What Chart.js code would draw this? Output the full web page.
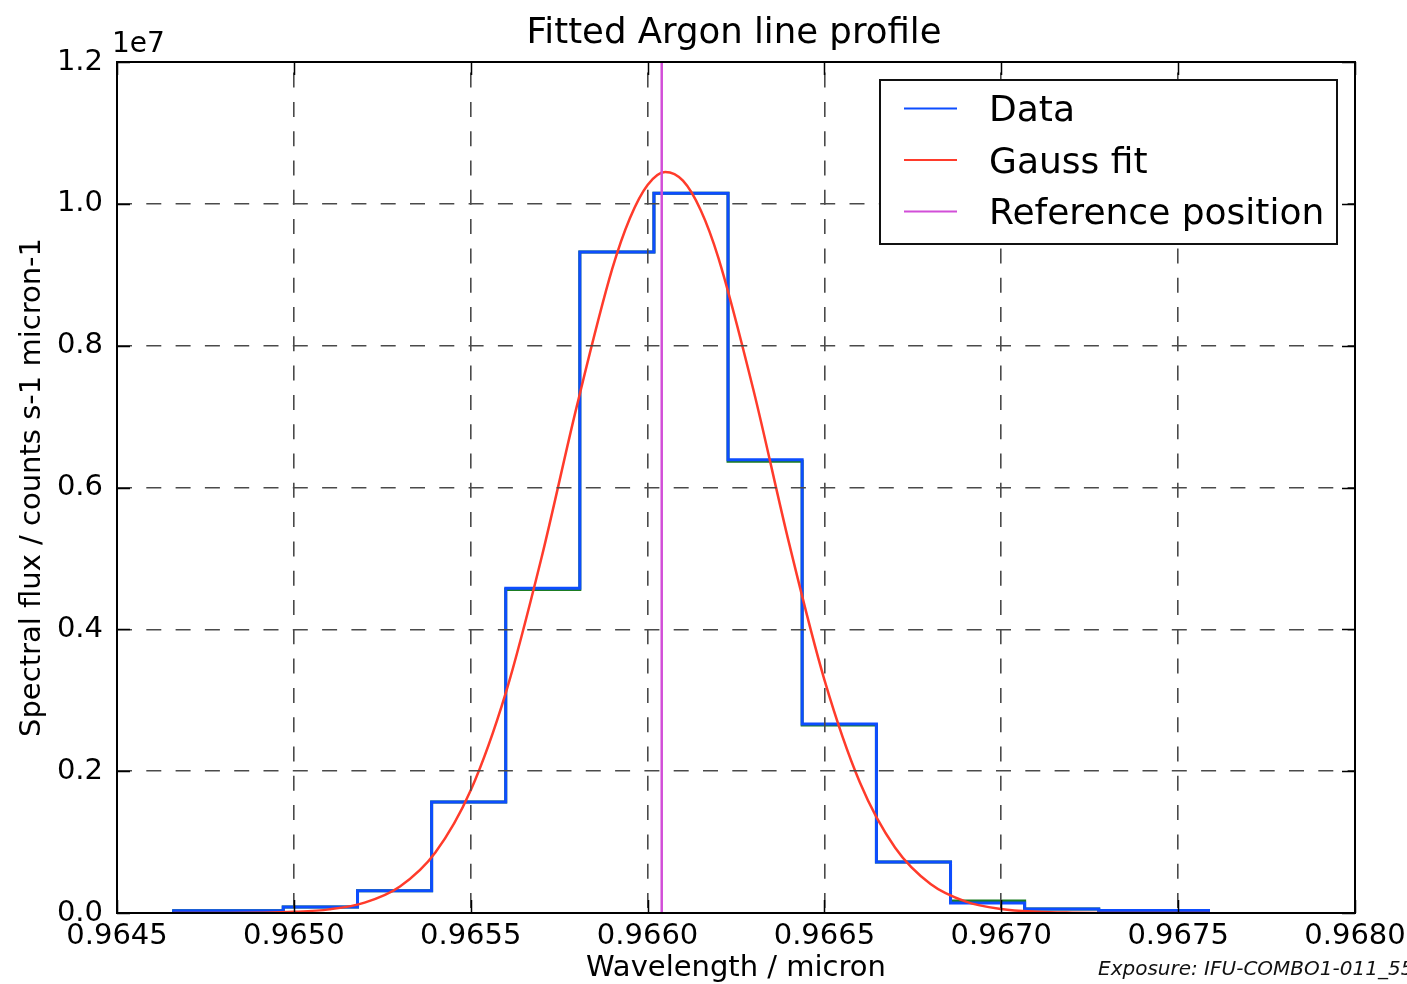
<!DOCTYPE html>
<html>
<head>
<meta charset="utf-8">
<script src="https://cdn.jsdelivr.net/npm/chart.js@4.4.1/dist/chart.umd.min.js"></script>
<style>
  html, body { margin: 0; padding: 0; background: #fff; overflow: hidden; }
  canvas { display: block; }
</style>
</head>
<body>
<canvas id="c" width="1407" height="984"></canvas>
<script>
// ---- text ----
const titleText = 'Fitted Argon line profile';
const xTitle = 'Wavelength / micron';
const yTitle = 'Spectral flux / counts s-1 micron-1';
const offsetLabel = '1e7';
const footerText = 'Exposure: IFU-COMBO1-011_55';

// ---- axis ticks ----
const xTicks = [0.9645, 0.9650, 0.9655, 0.9660, 0.9665, 0.9670, 0.9675, 0.9680];
const yTicks = [0, 2e6, 4e6, 6e6, 8e6, 1.0e7, 1.2e7];

// ---- binned spectrum (pixel centres, micron) ----
const dataWave = [0.964656, 0.964865, 0.965075, 0.965285, 0.965494, 0.965704, 0.965913,
                  0.966123, 0.966332, 0.966542, 0.966752, 0.966961, 0.967171, 0.967380, 0.967590];
// extracted flux
const dataFlux = [3.3e4, 3.3e4, 8.5e4, 3.15e5, 1.565e6, 4.58e6, 9.32e6,
                  1.015e7, 6.39e6, 2.665e6, 7.2e5, 1.40e5, 5.5e4, 3.5e4, 3.5e4];
// raw flux, before correction
const rawFlux  = [3.3e4, 3.3e4, 8.5e4, 3.15e5, 1.565e6, 4.56e6, 9.32e6,
                  1.015e7, 6.37e6, 2.65e6, 7.2e5, 1.70e5, 5.5e4, 3.5e4, 3.5e4];

// ---- Gaussian fit, sampled ----
const fitWave = [0.96466, 0.9648, 0.9649, 0.9650, 0.9651, 0.9652, 0.9653, 0.9654, 0.9655,
                 0.9656, 0.9657, 0.9658, 0.9659, 0.96595, 0.9660, 0.96605, 0.9661, 0.96615,
                 0.9662, 0.9663, 0.9664, 0.9665, 0.9666, 0.9667, 0.9668, 0.9669, 0.9670,
                 0.9671, 0.9672, 0.9673, 0.9674, 0.96759];
const fitFlux = [0, 1e3, 4e3, 1.6e4, 5.1e4, 1.46e5, 3.74e5, 8.53e5, 1.730e6,
                 3.119e6, 5.006e6, 7.148e6, 9.082e6, 9.798e6, 1.0267e7, 1.045e7, 1.0327e7, 9.914e6,
                 9.242e6, 7.361e6, 5.215e6, 3.288e6, 1.844e6, 9.20e5, 4.09e5, 1.61e5, 5.7e4,
                 1.8e4, 5e3, 1e3, 0, 0];

// ---- reference wavelength ----
const refWave = 0.96604;

const FONT = "'DejaVu Sans', 'Liberation Sans', sans-serif";
const BLUE = '#0d4dff';
const RED = '#ff3b2b';
const MAGENTA = '#d24ed8';
const GREEN = '#1b7d22';

const zip = (xs, ys) => xs.map((x, i) => ({ x: x, y: ys[i] }));

// Frame, inward tick marks, titles, offset label and legend
const decorations = {
  id: 'decorations',
  afterDraw(chart) {
    const ctx = chart.ctx;
    const a = chart.chartArea;
    const xs = chart.scales.x, ys = chart.scales.y;
    const TL = 13;
    ctx.save();

    // tick marks pointing into the plot, on all four sides
    ctx.strokeStyle = '#000';
    ctx.lineWidth = 1.5;
    ctx.beginPath();
    xTicks.forEach(v => {
      const px = Math.round(xs.getPixelForValue(v)) + 0.5;
      ctx.moveTo(px, a.bottom); ctx.lineTo(px, a.bottom - TL);
      ctx.moveTo(px, a.top); ctx.lineTo(px, a.top + TL);
    });
    yTicks.forEach(v => {
      const py = Math.round(ys.getPixelForValue(v)) + 0.5;
      ctx.moveTo(a.left, py); ctx.lineTo(a.left + TL, py);
      ctx.moveTo(a.right, py); ctx.lineTo(a.right - TL, py);
    });
    ctx.stroke();

    // axes frame
    ctx.lineWidth = 2;
    ctx.strokeRect(a.left, a.top, a.right - a.left, a.bottom - a.top);

    // title
    ctx.fillStyle = '#000';
    ctx.textAlign = 'center';
    ctx.textBaseline = 'alphabetic';
    ctx.font = '35.5px ' + FONT;
    ctx.fillText(titleText, 734, 43);

    // y offset label
    ctx.textAlign = 'left';
    ctx.font = '28px ' + FONT;
    ctx.fillText(offsetLabel, 112, 52);

    // exposure note
    ctx.font = 'italic 20px ' + FONT;
    ctx.fillStyle = '#111';
    ctx.fillText(footerText, 1098, 975);

    // legend
    const bx = 880, by = 80, bw = 457, bh = 164;
    ctx.fillStyle = '#fff';
    ctx.fillRect(bx, by, bw, bh);
    ctx.strokeStyle = '#111';
    ctx.lineWidth = 2;
    ctx.strokeRect(bx, by, bw, bh);
    const entries = chart.data.datasets.filter(d => d.inLegend);
    ctx.font = '36px ' + FONT;
    ctx.textAlign = 'left';
    ctx.textBaseline = 'alphabetic';
    entries.forEach((d, i) => {
      const ly = 108.5 + i * 51.5;
      ctx.strokeStyle = d.borderColor;
      ctx.lineWidth = 2.2;
      ctx.beginPath();
      ctx.moveTo(904, ly); ctx.lineTo(957, ly);
      ctx.stroke();
      ctx.fillStyle = '#000';
      ctx.fillText(d.label, 989, ly + 12.5);
    });
    ctx.restore();
  }
};

Chart.defaults.font.family = FONT;
Chart.defaults.color = '#000';

new Chart(document.getElementById('c'), {
  type: 'line',
  data: {
    datasets: [
      {
        label: 'Data', inLegend: true, order: 2,
        data: zip(dataWave, dataFlux),
        stepped: 'middle', borderColor: BLUE, borderWidth: 3,
        pointRadius: 0, fill: false
      },
      {
        label: 'Gauss fit', inLegend: true, order: 1,
        data: zip(fitWave, fitFlux),
        cubicInterpolationMode: 'monotone', borderColor: RED, borderWidth: 2.5,
        pointRadius: 0, fill: false
      },
      {
        label: 'Reference position', inLegend: true, order: 0,
        data: [{ x: refWave, y: 0 }, { x: refWave, y: 1.2e7 }],
        borderColor: MAGENTA, borderWidth: 2.5,
        pointRadius: 0, fill: false
      },
      {
        label: 'Raw', inLegend: false, order: 3,
        data: zip(dataWave, rawFlux),
        stepped: 'middle', borderColor: GREEN, borderWidth: 3,
        pointRadius: 0, fill: false
      }
    ]
  },
  options: {
    responsive: false,
    animation: false,
    events: [],
    layout: { autoPadding: false, padding: { top: 62, right: 52, left: 0, bottom: 0 } },
    plugins: { legend: { display: false }, title: { display: false }, tooltip: { enabled: false } },
    scales: {
      x: {
        type: 'linear', min: 0.9645, max: 0.968,
        afterBuildTicks: s => { s.ticks = xTicks.map(v => ({ value: v })); },
        afterFit: s => { s.height = 71; s.paddingLeft = 0; s.paddingRight = 0; },
        grid: { color: '#4a4a4a', lineWidth: 1.6, drawTicks: false, z: 1 },
        border: { display: false, dash: [15, 14.3], dashOffset: 18.7 },
        ticks: {
          autoSkip: false, maxRotation: 0, minRotation: 0, padding: 6,
          font: { size: 29 }, color: '#000',
          callback: v => v.toFixed(4)
        },
        title: {
          display: true, text: xTitle, font: { size: 29, lineHeight: 1.1 },
          padding: { top: 0, bottom: 0 }, color: '#000'
        }
      },
      y: {
        type: 'linear', min: 0, max: 1.2e7,
        afterBuildTicks: s => { s.ticks = yTicks.map(v => ({ value: v })); },
        afterFit: s => { s.width = 117; s.paddingTop = 0; s.paddingBottom = 0; },
        grid: { color: '#4a4a4a', lineWidth: 1.6, drawTicks: false, z: 1 },
        border: { display: false, dash: [15, 14.3], dashOffset: 0 },
        ticks: {
          padding: 14, font: { size: 29 }, color: '#000',
          callback: v => (v / 1e7).toFixed(1)
        },
        title: {
          display: true, text: yTitle, font: { size: 29, lineHeight: 1.2 },
          padding: { top: 15, bottom: 0 }, color: '#000'
        }
      }
    }
  },
  plugins: [decorations]
});
</script>
</body>
</html>
